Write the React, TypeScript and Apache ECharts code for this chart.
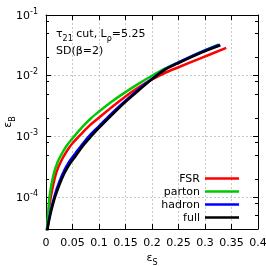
import React, { useEffect, useRef } from "react";
import * as echarts from "echarts";

const FONT = "DejaVu Sans";

const SERIES_NAMES = ["FSR", "parton", "hadron", "full"];
const SERIES_COLORS = ["#ff0000", "#00c800", "#0000ff", "#000000"];

const FSR_S = [0.0015, 0.002, 0.005, 0.009, 0.014, 0.02, 0.03, 0.04, 0.05, 0.062, 0.08, 0.1, 0.125, 0.15, 0.175, 0.2, 0.225, 0.25, 0.29, 0.34];
const FSR_B = [2.4e-5, 3.0e-5, 5.6e-5, 1.0e-4, 1.66e-4, 2.63e-4, 4.17e-4, 5.89e-4, 7.76e-4, 1.0e-3, 1.45e-3, 2.04e-3, 3.09e-3, 4.57e-3, 6.46e-3, 8.71e-3, 1.12e-2, 1.38e-2, 1.91e-2, 2.88e-2];

const PARTON_S = [0.0015, 0.002, 0.004, 0.0066, 0.01, 0.015, 0.022, 0.03, 0.04, 0.053, 0.07, 0.085, 0.1, 0.125, 0.15, 0.175, 0.2, 0.225, 0.25, 0.29, 0.325];
const PARTON_B = [2.4e-5, 3.0e-5, 5.4e-5, 1.0e-4, 1.58e-4, 2.5e-4, 3.8e-4, 5.25e-4, 7.24e-4, 1.0e-3, 1.48e-3, 2.0e-3, 2.57e-3, 3.8e-3, 5.37e-3, 7.41e-3, 1.0e-2, 1.32e-2, 1.66e-2, 2.4e-2, 3.24e-2];

const HADRON_S = [0.0022, 0.003, 0.006, 0.01, 0.017, 0.025, 0.035, 0.045, 0.056, 0.07, 0.085, 0.1, 0.125, 0.15, 0.175, 0.2, 0.225, 0.25, 0.29, 0.328];
const HADRON_B = [2.5e-5, 3.2e-5, 4.5e-5, 6.6e-5, 1.12e-4, 1.78e-4, 2.82e-4, 3.98e-4, 5.37e-4, 7.76e-4, 1.1e-3, 1.48e-3, 2.45e-3, 3.89e-3, 6.03e-3, 8.91e-3, 1.29e-2, 1.66e-2, 2.4e-2, 3.24e-2];

const FULL_S = [0.0025, 0.003, 0.006, 0.01, 0.017, 0.025, 0.035, 0.045, 0.056, 0.07, 0.085, 0.1, 0.125, 0.15, 0.175, 0.2, 0.225, 0.25, 0.29, 0.329];
const FULL_B = [2.5e-5, 3.0e-5, 4.2e-5, 6.0e-5, 1.0e-4, 1.58e-4, 2.5e-4, 3.55e-4, 4.79e-4, 7.08e-4, 1.0e-3, 1.38e-3, 2.29e-3, 3.72e-3, 5.75e-3, 8.71e-3, 1.26e-2, 1.62e-2, 2.34e-2, 3.16e-2];

const X_MIN = 0;
const X_MAX = 0.4;
const X_STEP = 0.05;
const Y_MIN = 3e-5;
const Y_MAX = 1e-1;
const Y_MAJOR = [1e-4, 1e-3, 1e-2, 1e-1];
const Y_MINOR = [5e-5, 8e-5, 2e-4, 5e-4, 8e-4, 2e-3, 5e-3, 8e-3, 2e-2, 5e-2, 8e-2];

const toLog = (v: number) => Math.log10(v);
const pairs = (xs: number[], ys: number[]) => xs.map((x, i) => [x, toLog(ys[i])]);

export default function App() {
  const ref = useRef<HTMLDivElement>(null);
  useEffect(() => {
    if (!ref.current) return;
    const chart = echarts.init(ref.current, null, { renderer: "svg" });
    const seriesData = [
      pairs(FSR_S, FSR_B),
      pairs(PARTON_S, PARTON_B),
      pairs(HADRON_S, HADRON_B),
      pairs(FULL_S, FULL_B),
    ];
    const yMin = toLog(Y_MIN);
    const yMax = toLog(Y_MAX);
    const major = Y_MAJOR.map(toLog);
    const minor = Y_MINOR.map(toLog);
    const tickLine = { color: "#000", width: 1 };
    const baseY = {
      type: "value" as const,
      min: yMin,
      max: yMax,
      splitLine: { show: false },
      axisLabel: { show: false },
      axisLine: { show: false },
    };
    const subRich = {
      e: { fontSize: 11, fontFamily: FONT, color: "#000", lineHeight: 14, verticalAlign: "top" },
      s: { fontSize: 8, fontFamily: FONT, color: "#000", lineHeight: 8, verticalAlign: "bottom", padding: [6, 0, 0, 0] },
    };
    chart.setOption({
      animation: false,
      textStyle: { fontFamily: FONT },
      grid: { left: 46, right: 8, top: 15, bottom: 37, show: false, containLabel: false, outerBoundsMode: "none" },
      legend: {
        data: SERIES_NAMES,
        orient: "vertical",
        right: 22,
        top: 167,
        align: "right",
        icon: "rect",
        itemWidth: 34,
        itemHeight: 2.5,
        itemGap: 0,
        textStyle: { fontSize: 11, fontFamily: FONT, color: "#000", lineHeight: 13 },
      },
      xAxis: [
        {
          type: "value",
          min: X_MIN,
          max: X_MAX,
          interval: X_STEP,
          position: "bottom",
          axisLine: { show: true, lineStyle: tickLine },
          axisTick: { show: true, inside: true, length: 5, lineStyle: tickLine },
          axisLabel: { fontSize: 11, color: "#000", fontFamily: FONT, margin: 8, hideOverlap: false },
          splitLine: { show: true, lineStyle: { color: "#c8c8c8", type: [2, 2], width: 1 } },
          name: "{e|ε}{s|S}",
          nameLocation: "middle",
          nameGap: 23,
          nameMoveOverlap: false,
          nameTextStyle: { rich: subRich },
        },
        {
          type: "value",
          min: X_MIN,
          max: X_MAX,
          interval: X_STEP,
          position: "top",
          axisLine: { show: true, lineStyle: tickLine },
          axisTick: { show: true, inside: true, length: 5, lineStyle: tickLine },
          axisLabel: { show: false },
          splitLine: { show: false },
        },
      ],
      yAxis: [
        {
          ...baseY,
          position: "left",
          axisLine: { show: true, lineStyle: tickLine },
          axisTick: { show: true, inside: true, length: 5, lineStyle: tickLine, customValues: major },
          splitLine: { show: true, lineStyle: { color: "#c8c8c8", type: [2, 2], width: 1 } },
          axisLabel: {
            show: true,
            customValues: major,
            margin: 8,
            formatter: (v: number) => `{b|10}{s|${Math.round(v)}}`,
            rich: {
              b: { fontSize: 11, fontFamily: FONT, color: "#000", lineHeight: 16, verticalAlign: "middle" },
              s: { fontSize: 8, fontFamily: FONT, color: "#000", lineHeight: 9, verticalAlign: "top" },
            },
          },
          name: "{e|ε}{s|B}",
          nameLocation: "middle",
          nameGap: 30,
          nameMoveOverlap: false,
          nameTextStyle: { rich: subRich },
        },
        {
          ...baseY,
          position: "left",
          axisTick: { show: true, inside: true, length: 3, lineStyle: tickLine, customValues: minor },
        },
        {
          ...baseY,
          position: "right",
          axisLine: { show: true, lineStyle: tickLine },
          axisTick: { show: true, inside: true, length: 5, lineStyle: tickLine, customValues: major },
        },
        {
          ...baseY,
          position: "right",
          axisTick: { show: true, inside: true, length: 3, lineStyle: tickLine, customValues: minor },
        },
      ],
      graphic: [
        {
          type: "text",
          left: 56,
          top: 28,
          z: 100,
          style: {
            text: "{n|τ}{s|21}{n| cut, L}{s|ρ}{n|=5.25}",
            rich: {
              n: { fontSize: 11, fontFamily: FONT, fill: "#000", lineHeight: 14, verticalAlign: "top" },
              s: { fontSize: 8, fontFamily: FONT, fill: "#000", lineHeight: 8, verticalAlign: "bottom", padding: [6, 0, 0, 0] },
            },
          },
        },
        {
          type: "text",
          left: 56,
          top: 45,
          z: 100,
          style: { text: "SD(β=2)", fontSize: 11, fontFamily: FONT, fill: "#000" },
        },
      ],
      series: SERIES_NAMES.map((name, i) => ({
        name,
        type: "line",
        xAxisIndex: 0,
        yAxisIndex: 0,
        data: seriesData[i],
        showSymbol: false,
        symbol: "none",
        smooth: 0.3,
        clip: true,
        color: SERIES_COLORS[i],
        lineStyle: { color: SERIES_COLORS[i], width: 2.5 },
      })),
    });
    return () => chart.dispose();
  }, []);
  return <div ref={ref} style={{ position: "fixed", left: 0, top: 0, width: 266, height: 266 }} />;
}
